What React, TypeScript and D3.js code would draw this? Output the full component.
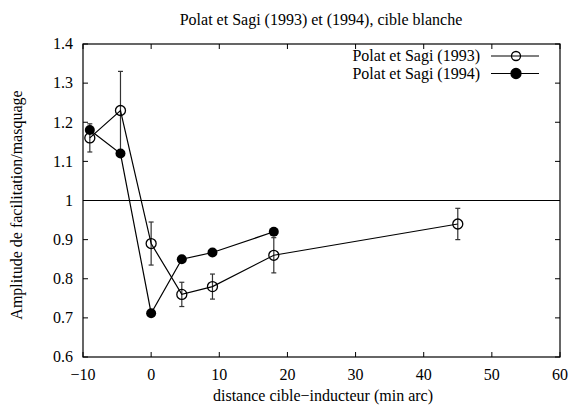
import React from "react";
import * as d3 from "d3";

const title = "Polat et Sagi (1993) et (1994), cible blanche";
const xLabel = "distance cible\u2212inducteur (min arc)";
const yLabel = "Amplitude de facilitation/masquage";

const series93X = [-9, -4.5, 0, 4.5, 9, 18, 45];
const series93Y = [1.16, 1.23, 0.89, 0.76, 0.78, 0.86, 0.94];
const series93Err = [0.036, 0.1, 0.055, 0.031, 0.032, 0.045, 0.04];

const series94X = [-9, -4.5, 0, 4.5, 9, 18];
const series94Y = [1.18, 1.12, 0.712, 0.85, 0.867, 0.92];

const xTicks = [-10, 0, 10, 20, 30, 40, 50, 60];
const yTicks = [0.6, 0.7, 0.8, 0.9, 1.0, 1.1, 1.2, 1.3, 1.4];
const legendLabels = ["Polat et Sagi (1993)", "Polat et Sagi (1994)"];

const W = 571, H = 405;
const M = { left: 83, right: 560, top: 44, bottom: 357 };
const FONT = "Liberation Serif";

export default function App() {
  const x = d3.scaleLinear().domain([-10, 60]).range([M.left, M.right]);
  const y = d3.scaleLinear().domain([0.6, 1.4]).range([M.bottom, M.top]);
  const line = d3.line<[number, number]>().x(d => x(d[0])).y(d => y(d[1]));
  const p93 = series93X.map((v, i) => [v, series93Y[i]] as [number, number]);
  const p94 = series94X.map((v, i) => [v, series94Y[i]] as [number, number]);
  const tl = 5;
  const fmtX = (v: number) => (v < 0 ? "\u2212" + Math.abs(v) : String(v));
  const fmtY = (v: number) => (Math.abs(v - 1) < 1e-9 ? "1" : v.toFixed(1));

  return (
    <svg width={W} height={H} style={{ position: "absolute", left: 0, top: 0, background: "#fff" }}>
      <rect x={0} y={0} width={W} height={H} fill="#fff" />
      <text x={321} y={25} textAnchor="middle" fontSize={16} fontFamily={FONT}>{title}</text>
      {xTicks.map(t => (
        <g key={"xt" + t}>
          <line x1={x(t)} x2={x(t)} y1={M.bottom} y2={M.bottom - tl} stroke="#000" />
          <line x1={x(t)} x2={x(t)} y1={M.top} y2={M.top + tl} stroke="#000" />
          <text x={x(t)} y={M.bottom + 23} textAnchor="middle" fontSize={16} fontFamily={FONT}>{fmtX(t)}</text>
        </g>
      ))}
      {yTicks.map(t => (
        <g key={"yt" + t}>
          <line x1={M.left} x2={M.left + tl} y1={y(t)} y2={y(t)} stroke="#000" />
          <line x1={M.right} x2={M.right - tl} y1={y(t)} y2={y(t)} stroke="#000" />
          <text x={M.left - 10} y={y(t) + 5.3} textAnchor="end" fontSize={16} fontFamily={FONT}>{fmtY(t)}</text>
        </g>
      ))}
      <rect x={M.left} y={M.top} width={M.right - M.left} height={M.bottom - M.top} fill="none" stroke="#000" strokeWidth={1.2} />
      <line x1={M.left} x2={M.right} y1={y(1)} y2={y(1)} stroke="#000" strokeWidth={1.2} />
      {p93.map((d, i) => {
        const e = series93Err[i];
        const cx = x(d[0]);
        return (
          <g key={"eb" + i} stroke="#333" strokeWidth={1.2}>
            <line x1={cx} x2={cx} y1={y(d[1] - e)} y2={y(d[1] + e)} />
            <line x1={cx - 2.5} x2={cx + 2.5} y1={y(d[1] - e)} y2={y(d[1] - e)} />
            <line x1={cx - 2.5} x2={cx + 2.5} y1={y(d[1] + e)} y2={y(d[1] + e)} />
          </g>
        );
      })}
      <path d={line(p93) || ""} fill="none" stroke="#000" strokeWidth={1.2} />
      <path d={line(p94) || ""} fill="none" stroke="#000" strokeWidth={1.2} />
      {p93.map((d, i) => (
        <circle key={"c93" + i} cx={x(d[0])} cy={y(d[1])} r={5} fill="none" stroke="#000" strokeWidth={1.3} />
      ))}
      {p94.map((d, i) => (
        <circle key={"c94" + i} cx={x(d[0])} cy={y(d[1])} r={5} fill="#000" />
      ))}
      {legendLabels.map((lab, i) => {
        const ly = 56 + i * 17.5;
        return (
          <g key={"lg" + i}>
            <text x={480} y={ly + 5} textAnchor="end" fontSize={16} fontFamily={FONT}>{lab}</text>
            <line x1={491} x2={539} y1={ly} y2={ly} stroke="#000" strokeWidth={1.2} />
            <circle cx={516} cy={ly} r={i === 0 ? 4.5 : 5} fill={i === 0 ? "none" : "#000"} stroke="#000" strokeWidth={1.3} />
          </g>
        );
      })}
      <text x={323} y={401} textAnchor="middle" fontSize={16} fontFamily={FONT}>{xLabel}</text>
      <text transform="translate(22, 205) rotate(-90)" textAnchor="middle" fontSize={16} fontFamily={FONT}>{yLabel}</text>
    </svg>
  );
}
